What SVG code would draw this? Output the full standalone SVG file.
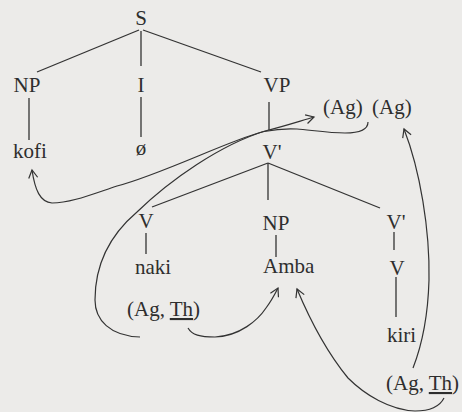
<svg xmlns="http://www.w3.org/2000/svg" width="462" height="412" viewBox="0 0 462 412">
<defs>
<style>
text{font-family:"Liberation Serif","Times New Roman",serif;font-size:21px;fill:#2e2e2e}
.c{text-anchor:middle}
.e{stroke:#333;stroke-width:1.3;fill:none}
.a{stroke:#333;stroke-width:1.2;fill:none}
</style>
<marker id="ah" viewBox="-10 -6 12 12" markerWidth="12" markerHeight="12" refX="0" refY="0" orient="auto" markerUnits="userSpaceOnUse">
<path d="M-8,-4.5 L0,0 L-8,4.5" fill="none" stroke="#333" stroke-width="1.2"/>
</marker>
</defs>
<rect width="462" height="412" fill="#ecebe9"/>
<g id="edges">
<line class="e" x1="139" y1="30" x2="37" y2="72"/>
<line class="e" x1="141" y1="31" x2="141" y2="66"/>
<line class="e" x1="143" y1="30" x2="261" y2="72"/>
<line class="e" x1="29" y1="98" x2="29" y2="140"/>
<line class="e" x1="141" y1="97" x2="141" y2="137"/>
<line class="e" x1="269" y1="102" x2="269" y2="130"/>
<line class="e" x1="268" y1="163" x2="152" y2="207"/>
<line class="e" x1="268" y1="163" x2="268" y2="200"/>
<line class="e" x1="268" y1="163" x2="380" y2="208"/>
<line class="e" x1="146" y1="233" x2="146" y2="254"/>
<line class="e" x1="276" y1="235" x2="276" y2="257"/>
<line class="e" x1="394" y1="232" x2="394" y2="250"/>
<line class="e" x1="396" y1="277" x2="396" y2="317"/>
</g>
<g id="arrows">
<path class="a" d="M368,122 C368,130 360,133 345,133 C330,133 310,130 297,129 C280,128 272,130 262,132 C230,140 160,175 117,186 C90,195 70,203 52,203 C40,202 35,190 32,170" marker-end="url(#ah)"/>
<path class="a" d="M140,337 C110,336 95,320 95,300 C95,265 110,235 137,212 C170,180 220,145 265,131 C285,126 300,121 314,117" marker-end="url(#ah)"/>
<path class="a" d="M188,328 C192,335 200,337 215,337 C240,336 258,320 266,308 C272,300 275,294 278,288" marker-end="url(#ah)"/>
<path class="a" d="M444,398 C440,406 430,411 415,411 C390,410 365,395 348,378 C325,350 310,320 297,289" marker-end="url(#ah)"/>
<path class="a" d="M413,368 C422,345 428,315 429,280 C430,230 420,170 404,129" marker-end="url(#ah)"/>
</g>
<g id="n-S"><text class="c" x="141" y="25">S</text></g>
<g id="n-NP1"><text class="c" x="27" y="92">NP</text></g>
<g id="n-I"><text class="c" x="141" y="92">I</text></g>
<g id="n-VP"><text class="c" x="277" y="92">VP</text></g>
<g id="n-kofi"><text x="13" y="158">kofi</text></g>
<g id="n-empty"><text class="c" x="141" y="155">ø</text></g>
<g id="n-Ag1"><text x="323" y="114">(Ag)</text></g>
<g id="n-Ag2"><text x="372" y="114">(Ag)</text></g>
<g id="n-Vbar1"><text class="c" x="272" y="159">V'</text></g>
<g id="n-V1"><text class="c" x="146" y="228">V</text></g>
<g id="n-naki"><text x="135" y="274">naki</text></g>
<g id="n-grid1"><text x="127" y="316">(Ag, <tspan style="text-decoration:underline">Th</tspan>)</text></g>
<g id="n-NP2"><text class="c" x="276" y="230">NP</text></g>
<g id="n-Amba"><text x="263" y="273">Amba</text></g>
<g id="n-Vbar2"><text class="c" x="396" y="229">V'</text></g>
<g id="n-V2"><text class="c" x="397" y="275">V</text></g>
<g id="n-kiri"><text x="387" y="342">kiri</text></g>
<g id="n-grid2"><text x="386" y="390">(Ag, <tspan style="text-decoration:underline">Th</tspan>)</text></g>
</svg>
